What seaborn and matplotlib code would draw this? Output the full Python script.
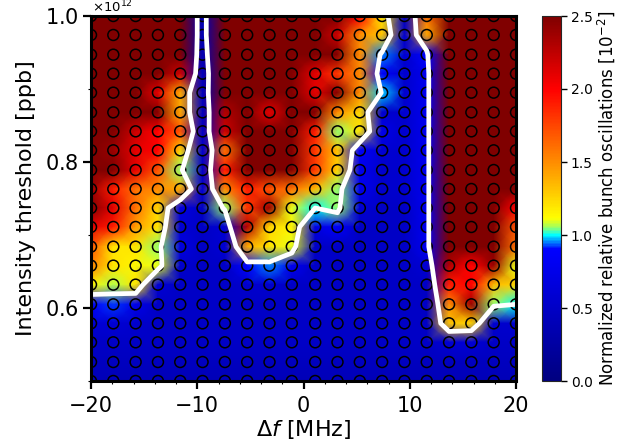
import numpy as np, pandas as pd
import matplotlib
matplotlib.use("Agg")
import matplotlib.pyplot as plt
import seaborn as sns
from matplotlib.colors import LinearSegmentedColormap
from matplotlib.ticker import MultipleLocator, ScalarFormatter

# ---------------- DATA ----------------
delta_f = [-20, -17.9, -15.8, -13.7, -11.6, -9.5, -7.4, -5.3, -3.2, -1.1,
           1.1, 3.2, 5.3, 7.4, 9.5, 11.6, 13.7, 15.8, 17.9, 20]
# top row first
intensity = [1.0, .974, .947, .921, .895, .868, .842, .816, .789, .763,
             .737, .711, .684, .658, .632, .605, .579, .553, .526, .5]
osc = [
    [3,3,3,3,2.9,.4,4,3,3,3, 3,2.8,2.0,1.2,.45,1.6,3,3,3,3],
    [3,3,3,3,2.9,.4,4,3,3,3, 2.6,2.2,1.5,1.3,.55,1.4,3,3,3,3],
    [3,3,3,3,2.7,.4,3.2,3,3,3, 2.7,2.6,1.5,.95,.55,.9,3,3,3,3],
    [3,3,3,2.6,2.2,.45,2.5,3,3,2.9, 2.1,1.8,1.5,.85,.55,.8,3,3,3,3],
    [3,3,3,2.1,1.4,.45,2.6,2.8,2.8,2.8, 2.1,2.6,1.5,.98,.55,.8,3,3,3,3],
    [3,3,2.7,2.5,1.4,.45,2.3,2.8,2.1,2.8, 2.6,1.5,1.25,.55,.55,.8,3,3,3,3],
    [2.8,2.7,2.2,2.0,1.7,.5,2.2,2.8,2.7,2.8, 1.9,1.05,1.2,.75,.55,.8,3,3,3,3],
    [2.8,2.4,2.1,2.0,1.25,.55,1.6,2.7,2.7,2.7, 1.8,1.3,.85,.6,.55,.8,3,3,3,3],
    [2.8,2.6,2.1,1.7,1.05,.5,1.9,2.6,2.6,2.6, 1.8,1.25,.8,.55,.55,.8,3,3,3,3],
    [2.4,1.9,1.6,1.5,1.4,.6,1.5,1.9,1.7,1.6, 1.35,1.05,.8,.55,.55,.8,3,3,3,3],
    [2.5,2.1,1.6,1.25,.7,.5,1.05,1.8,2.4,1.1, 1.0,1.05,.6,.5,.5,.8,3,3,3.5,2.0],
    [2.1,1.9,1.45,1.2,.6,.5,.6,2.3,1.25,1.15, .7,.85,.5,.5,.5,.8,3,3,2.9,1.7],
    [1.7,1.2,1.2,1.05,.7,.5,.6,1.4,1.2,1.1, .5,.5,.5,.5,.5,.8,3,3,2.9,1.6],
    [1.55,1.2,1.15,1.1,.55,.5,.5,.9,.95,.8, .5,.5,.5,.5,.5,.6,2.3,2.0,2.4,1.1],
    [1.15,1.07,1.2,.6,.5,.5,.5,.55,.55,.5, .5,.5,.5,.5,.5,.5,1.9,2.0,1.35,1.25],
    [.85,.92,.75,.5,.5,.5,.5,.5,.5,.5, .5,.5,.5,.5,.5,.5,1.5,2.4,1.05,1.0],
    [.6,.6,.55,.5,.5,.5,.5,.5,.5,.5, .5,.5,.5,.5,.5,.5,1.3,1.25,.55,.55],
    [.5,.5,.5,.5,.5,.5,.5,.5,.5,.5, .5,.5,.5,.5,.5,.5,.6,.6,.5,.5],
    [.45,.45,.45,.45,.45,.45,.45,.45,.45,.45, .45,.45,.45,.45,.45,.45,.45,.45,.45,.45],
    [.4,.4,.4,.4,.4,.4,.4,.4,.4,.4, .4,.4,.4,.4,.4,.4,.4,.4,.4,.4],
]
cb_ticks = [0.0, 0.5, 1.0, 1.5, 2.0, 2.5]

# ---------------- COLORMAP ----------------
cmap = LinearSegmentedColormap.from_list("jet_split", [
    (0.0, (0, 0, .5)),
    (.36, (0, 0, 1)),
    (.38, (0, .5, 1)),
    (.40, (0, 1, 1)),
    (.42, (.6, 1, .4)),
    (.445, (1, 1, 0)),
    (.6, (1, .55, 0)),
    (.8, (1, 0, 0)),
    (1.0, (.5, 0, 0)),
])

# ---------------- PLOT ----------------
sns.set_style("white")
plt.rcParams["text.color"] = "black"
plt.rcParams["axes.labelcolor"] = "black"
plt.rcParams["xtick.color"] = "black"
plt.rcParams["ytick.color"] = "black"

fig = plt.figure(figsize=(6.32, 4.48), dpi=100)
ax = fig.add_axes([91/632, 1-381/448, 425/632, 365/448])
cax = fig.add_axes([542/632, 1-381/448, 19/632, 365/448])

X, Y = np.meshgrid(delta_f, np.array(intensity)*1e12)
Z = np.array(osc)

mesh = ax.pcolormesh(X, Y, Z, shading="gouraud", cmap=cmap, vmin=0, vmax=2.5)
ax.contour(X, Y, Z, levels=[1.0], colors="white", linewidths=3.4)

pts = pd.DataFrame({"df": X.ravel(), "thr": Y.ravel()})
sns.scatterplot(data=pts, x="df", y="thr", ax=ax, s=62, facecolor="none",
                edgecolor="black", linewidth=1.1, legend=False)

ax.set_xlim(-20, 20)
ax.set_ylim(0.5e12, 1.0e12)
ax.xaxis.set_major_locator(MultipleLocator(10))
ax.xaxis.set_minor_locator(MultipleLocator(2))
ax.yaxis.set_major_locator(MultipleLocator(0.2e12))
ax.yaxis.set_minor_locator(MultipleLocator(0.1e12))
fmt = ScalarFormatter(useMathText=True)
fmt.set_powerlimits((0, 0))
ax.yaxis.set_major_formatter(fmt)
ax.tick_params(which="major", bottom=True, left=True, length=6, width=1.6, labelsize=15, pad=3)
ax.tick_params(axis="x", which="major", pad=4.5)
ax.tick_params(which="minor", bottom=True, left=True, length=2.5, width=0.8)
# offset text would be cut by the top edge, so place it by hand
ax.yaxis.get_offset_text().set_visible(False)
fig.text(92/632, 1-12.5/448, r"$\times10^{12}$", fontsize=9.5, va="baseline")
for s in ax.spines.values():
    s.set_linewidth(2.2)
    s.set_color("black")
ax.set_xlabel(r"$\Delta f$ [MHz]", fontsize=16, labelpad=1.5)
ax.set_ylabel("Intensity threshold [ppb]", fontsize=16, labelpad=6.5)

cb = fig.colorbar(mesh, cax=cax)
cb.set_ticks(cb_ticks)
cb.ax.tick_params(length=4, width=1, labelsize=10, right=True, pad=3)
cb.outline.set_linewidth(0.8)
cb.set_label(r"Normalized relative bunch oscillations [$10^{-2}$]", fontsize=12, labelpad=2)

fig.savefig("out.png", dpi=100)
